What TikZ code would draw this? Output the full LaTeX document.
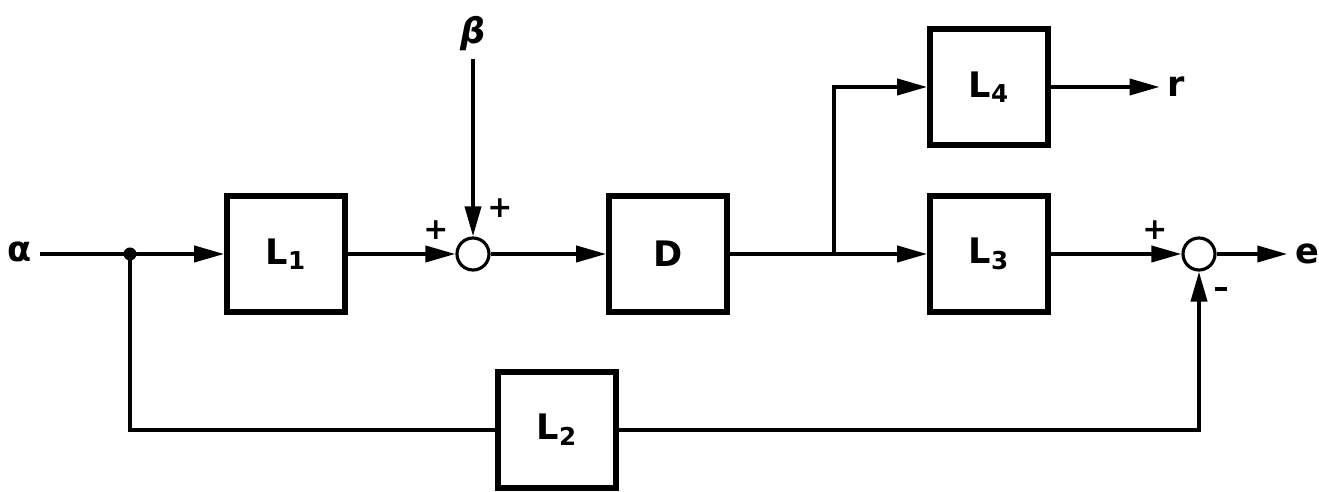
\documentclass[tikz,border=0pt]{standalone}
\usepackage{fontspec}
\setmainfont{DejaVu Sans}
\usetikzlibrary{arrows.meta,positioning}
\tikzset{
  block/.style={draw,line width=3.2pt,minimum width=2.36cm,minimum height=2.32cm,
    font=\fontsize{20}{24}\selectfont\bfseries},
  sumnode/.style={draw,circle,line width=1.8pt,minimum size=0.64cm,inner sep=0pt},
  sig/.style={font=\fontsize{20}{24}\selectfont\bfseries},
  sgn/.style={font=\fontsize{17}{18}\selectfont\bfseries,inner sep=0pt},
}
\begin{document}
\begin{tikzpicture}[x=0.02cm,y=-0.02cm,line width=2.2pt,
    >={Triangle[length=0.6cm,width=0.32cm]}]
  \useasboundingbox (0,0) rectangle (1319,492);
  % forward path
  \node[sig] (alpha) at (20,252) {α};
  \coordinate (split) at (130,254);
  \node[block] (L1) at (286,254) {L\textsubscript{1}};
  \node[sumnode] (sum1) at (473,254) {};
  \node[sig] (beta) at (473,34) {\itshape β};
  \node[block] (D) at (668,254) {D};
  \coordinate (branch) at (834,254);
  \node[block] (L4) at (989,87) {L\textsubscript{4}};
  \node[block] (L3) at (989,254) {L\textsubscript{3}};
  \node[sig] (r) at (1176,87) {r};
  \node[sig] (e) at (1307,254) {e};
  \node[sumnode] (sum2) at (1199,254) {};
  \node[block] (L2) at (557,430) {L\textsubscript{2}};
  % signs
  \node[sgn] (p1) at (436,230) {+};
  \node[sgn] (p2) at (500,208) {+};
  \node[sgn] (p3) at (1155,230) {+};
  \node[inner sep=0pt] (m1) at (1221,289) {\rule{0.24cm}{0.07cm}};
  % connectors
  \draw (alpha.east |- split) -- (split);
  \fill (split) circle [radius=0.13cm];
  \draw[->] (split) -- (L1);
  \draw[->] (L1) -- (sum1);
  \draw[->] (beta) -- (sum1);
  \draw[->] (sum1) -- (D);
  \draw[->] (D) -- (branch) -- (L3);
  \draw[->] (branch) |- (L4);
  \draw[->] (L4) -- (r.west |- L4);
  \draw[->] (L3) -- (sum2);
  \draw[->] (sum2) -- (e.west |- sum2);
  % feedback
  \draw (split) |- (L2);
  \draw[->] (L2) -| (sum2);
\end{tikzpicture}
\end{document}
